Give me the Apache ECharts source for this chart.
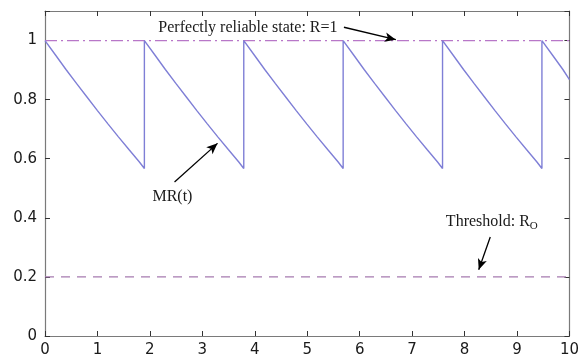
<!DOCTYPE html>
<html>
<head>
<meta charset="utf-8">
<script src="https://cdn.jsdelivr.net/npm/echarts@6/dist/echarts.min.js"></script>
<style>html,body{margin:0;padding:0;background:#fff}#c{width:582px;height:359px}</style>
</head>
<body>
<div id="c"></div>
<script>
// Time points of the MR(t) curve (jumps repeat the time value)
var mrTime = [
  0, 0.2, 0.4, 0.6, 0.8, 1.0, 1.2, 1.4, 1.6, 1.8, 1.895,
  1.895, 2.095, 2.295, 2.495, 2.695, 2.895, 3.095, 3.295, 3.495, 3.695, 3.79,
  3.79, 3.99, 4.19, 4.39, 4.59, 4.79, 4.99, 5.19, 5.39, 5.59, 5.685,
  5.685, 5.885, 6.085, 6.285, 6.485, 6.685, 6.885, 7.085, 7.285, 7.485, 7.58,
  7.58, 7.78, 7.98, 8.18, 8.38, 8.58, 8.78, 8.98, 9.18, 9.38, 9.475,
  9.475, 9.675, 9.875, 10
];
var mrValue = [
  1.0, 0.951, 0.902, 0.855, 0.809, 0.763, 0.718, 0.674, 0.631, 0.589, 0.567,
  1.0, 0.951, 0.902, 0.855, 0.809, 0.763, 0.718, 0.674, 0.631, 0.589, 0.567,
  1.0, 0.951, 0.902, 0.855, 0.809, 0.763, 0.718, 0.674, 0.631, 0.589, 0.567,
  1.0, 0.951, 0.902, 0.855, 0.809, 0.763, 0.718, 0.674, 0.631, 0.589, 0.567,
  1.0, 0.951, 0.902, 0.855, 0.809, 0.763, 0.718, 0.674, 0.631, 0.589, 0.567,
  1.0, 0.951, 0.902, 0.868
];
var perfectLevel = 1;
var thresholdLevel = 0.2;
var xTicks = [0, 1, 2, 3, 4, 5, 6, 7, 8, 9, 10];
var yTicks = [0, 0.2, 0.4, 0.6, 0.8, 1];

var curve = mrTime.map(function (t, i) { return [t, mrValue[i]]; });

var chart = echarts.init(document.getElementById('c'));
var labelFont = { fontFamily: 'DejaVu Sans', fontSize: 15, color: '#1a1a1a' };
var axisCol = '#7a7a7a';
function yFmt(v) { var r = Math.round(v * 10) / 10; return yTicks.indexOf(r) >= 0 ? String(r) : ''; }

chart.setOption({
  animation: false,
  backgroundColor: '#fff',
  grid: { left: 45, right: 11, top: 11, bottom: 23 },
  xAxis: [
    { type: 'value', min: 0, max: 10, interval: 1, position: 'bottom',
      axisLine: { lineStyle: { color: axisCol, width: 1.2 } },
      axisTick: { inside: true, length: 5, lineStyle: { color: '#333' } },
      axisLabel: Object.assign({ margin: 7 }, labelFont),
      splitLine: { show: false } },
    { type: 'value', min: 0, max: 10, interval: 1, position: 'top',
      axisLine: { onZero: false, lineStyle: { color: axisCol, width: 1.2 } },
      axisTick: { inside: true, length: 5, lineStyle: { color: '#333' } },
      axisLabel: { show: false }, splitLine: { show: false } }
  ],
  yAxis: [
    { type: 'value', min: 0, max: 1.1, interval: 0.2, position: 'left',
      axisLine: { show: true, lineStyle: { color: axisCol, width: 1.2 } },
      axisTick: { show: true, inside: true, length: 5, lineStyle: { color: '#333' } },
      axisLabel: Object.assign({ margin: 8, formatter: function (v) { return v > 1.01 ? '' : yFmt(v); } }, labelFont),
      splitLine: { show: false } },
    { type: 'value', min: 0, max: 1.1, interval: 0.2, position: 'right',
      axisLine: { show: true, onZero: false, lineStyle: { color: axisCol, width: 1.2 } },
      axisTick: { show: true, inside: true, length: 5, lineStyle: { color: '#333' } },
      axisLabel: { show: false }, splitLine: { show: false } }
  ],
  series: [
    { type: 'line', name: 'R=1', showSymbol: false, symbol: 'none',
      data: [[0, perfectLevel], [10, perfectLevel]],
      lineStyle: { color: '#b877c8', width: 1.2, type: [12, 4, 2, 4] },
      markLine: {
        silent: true, symbol: ['none', 'arrow'], symbolSize: [7, 11],
        label: { show: false },
        lineStyle: { color: '#000', width: 1.3, type: 'solid' },
        data: [
          [{ coord: [5.70, 1.045] }, { coord: [6.69, 1.003] }],
          [{ coord: [2.47, 0.521] }, { coord: [3.29, 0.652] }],
          [{ coord: [8.49, 0.335] }, { coord: [8.27, 0.224] }]
        ]
      },
      markPoint: {
        silent: true, symbol: 'circle', symbolSize: 0,
        label: { show: true, fontFamily: 'Liberation Serif', fontSize: 16, color: '#1a1a1a',
          rich: { sub: { fontFamily: 'Liberation Serif', fontSize: 11, color: '#1a1a1a', verticalAlign: 'bottom', padding: [7, 0, 0, 0] },
                  n: { fontFamily: 'Liberation Serif', fontSize: 16, color: '#1a1a1a' } } },
        data: [
          { coord: [3.87, 1.044], label: { formatter: 'Perfectly reliable state: R=1' } },
          { coord: [2.43, 0.47], label: { formatter: 'MR(t)' } },
          { coord: [8.52, 0.385], label: { formatter: '{n|Threshold: R}{sub|O}' } }
        ]
      }
    },
    { type: 'line', name: 'threshold', showSymbol: false, symbol: 'none',
      data: [[0, thresholdLevel], [10, thresholdLevel]],
      lineStyle: { color: '#a67bb0', width: 1.2, type: [9, 7] } },
    { type: 'line', name: 'MR(t)', showSymbol: false, symbol: 'none',
      data: curve,
      lineStyle: { color: '#7f7fd6', width: 1.4 } }
  ]
});
</script>
</body>
</html>
